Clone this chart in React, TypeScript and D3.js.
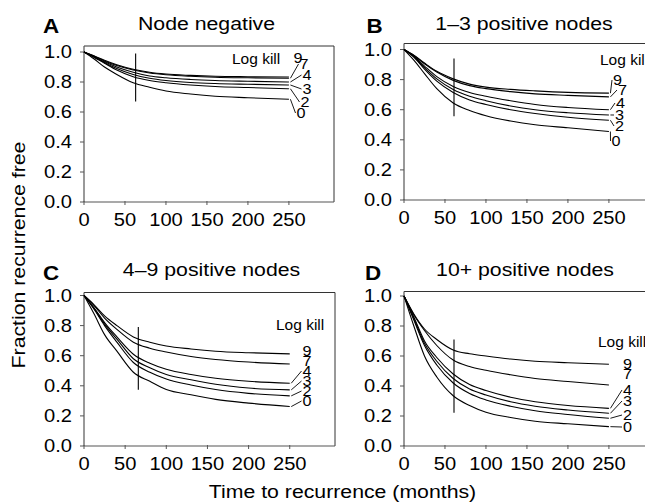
import React from "react";
import * as d3 from "d3";

// ---------- data ----------
const MONTHS = [0, 12, 25, 40, 60, 80, 100, 130, 160, 200, 250];
const LOG_KILL = ["0", "2", "3", "4", "7", "9"];
const X_TICKS = [0, 50, 100, 150, 200, 250];
const Y_TICKS = [0, 0.2, 0.4, 0.6, 0.8, 1.0];
const PANEL_LETTERS = ["A", "B", "C", "D"];
const PANEL_TITLES = ["Node negative", "1\u20133 positive nodes", "4\u20139 positive nodes", "10+ positive nodes"];

// series per panel, ordered as LOG_KILL (0,2,3,4,7,9)
const NODE_NEGATIVE = [
  [1.0, 0.955, 0.9, 0.85, 0.795, 0.765, 0.74, 0.72, 0.705, 0.695, 0.685],
  [1.0, 0.965, 0.925, 0.88, 0.835, 0.81, 0.795, 0.78, 0.77, 0.763, 0.755],
  [1.0, 0.968, 0.93, 0.89, 0.85, 0.825, 0.81, 0.797, 0.79, 0.785, 0.78],
  [1.0, 0.97, 0.935, 0.9, 0.865, 0.84, 0.828, 0.817, 0.81, 0.805, 0.8],
  [1.0, 0.973, 0.94, 0.91, 0.88, 0.86, 0.848, 0.838, 0.832, 0.828, 0.825],
  [1.0, 0.975, 0.945, 0.915, 0.885, 0.865, 0.853, 0.844, 0.838, 0.835, 0.833],
];
const NODES_1_3 = [
  [1.0, 0.93, 0.84, 0.74, 0.645, 0.595, 0.56, 0.525, 0.5, 0.48, 0.455],
  [1.0, 0.95, 0.87, 0.79, 0.715, 0.665, 0.635, 0.6, 0.575, 0.55, 0.53],
  [1.0, 0.952, 0.88, 0.805, 0.735, 0.69, 0.66, 0.625, 0.6, 0.58, 0.565],
  [1.0, 0.955, 0.89, 0.82, 0.755, 0.715, 0.69, 0.66, 0.635, 0.615, 0.6],
  [1.0, 0.96, 0.905, 0.85, 0.795, 0.76, 0.74, 0.72, 0.705, 0.695, 0.685],
  [1.0, 0.962, 0.91, 0.855, 0.805, 0.77, 0.75, 0.735, 0.725, 0.715, 0.71],
];
const NODES_4_9 = [
  [1.0, 0.88, 0.74, 0.63, 0.49, 0.43, 0.375, 0.34, 0.31, 0.285, 0.262],
  [1.0, 0.91, 0.8, 0.69, 0.555, 0.49, 0.445, 0.405, 0.375, 0.35, 0.333],
  [1.0, 0.915, 0.81, 0.71, 0.58, 0.52, 0.475, 0.44, 0.41, 0.385, 0.373],
  [1.0, 0.92, 0.82, 0.725, 0.61, 0.55, 0.51, 0.475, 0.45, 0.43, 0.417],
  [1.0, 0.935, 0.85, 0.775, 0.69, 0.65, 0.625, 0.595, 0.575, 0.558, 0.545],
  [1.0, 0.94, 0.865, 0.8, 0.725, 0.69, 0.665, 0.645, 0.63, 0.62, 0.612],
];
const NODES_10_PLUS = [
  [1.0, 0.8, 0.6, 0.46, 0.335, 0.27, 0.225, 0.19, 0.165, 0.148, 0.129],
  [1.0, 0.84, 0.67, 0.54, 0.42, 0.35, 0.307, 0.265, 0.235, 0.21, 0.185],
  [1.0, 0.85, 0.685, 0.565, 0.45, 0.38, 0.34, 0.295, 0.265, 0.24, 0.218],
  [1.0, 0.86, 0.7, 0.59, 0.48, 0.41, 0.37, 0.325, 0.295, 0.27, 0.251],
  [1.0, 0.875, 0.77, 0.67, 0.573, 0.53, 0.505, 0.475, 0.45, 0.43, 0.407],
  [1.0, 0.88, 0.78, 0.71, 0.64, 0.615, 0.6, 0.58, 0.565, 0.555, 0.545],
];
const PANEL_SERIES = [NODE_NEGATIVE, NODES_1_3, NODES_4_9, NODES_10_PLUS];

// vertical reference marks (month, top value, bottom value)
const MARKER_MONTH = [63, 61, 66, 61];
const MARKER_TOP = [0.99, 0.94, 0.79, 0.71];
const MARKER_BOTTOM = [0.67, 0.557, 0.373, 0.222];

// ---------- layout ----------
const FONT = "'Liberation Sans', Arial, Helvetica, sans-serif";
const LAYOUT = [
  {
    left: 84, top: 46, bottom: 202, width: 250, yMax: 1.04,
    titleX: 206.5, titleY: 30, letterX: 43, letterY: 33,
    logKillX: 232, logKillY: 64,
    labels: [[301, 118], [305, 107], [307, 94], [307, 80], [304, 69], [298, 63]],
    leaders: [true, true, true, true, true, false],
  },
  {
    left: 404, top: 43.5, bottom: 200, width: 250, yMax: 1.04,
    titleX: 524, titleY: 29.5, letterX: 366.5, letterY: 33,
    logKillX: 600, logKillY: 65,
    labels: [[616, 146], [619.5, 131], [619.5, 120], [620.5, 108], [622.5, 95], [617.5, 85]],
    leaders: [true, true, true, true, true, true],
  },
  {
    left: 84, top: 292.5, bottom: 446, width: 251, yMax: 1.02,
    titleX: 211.5, titleY: 276, letterX: 43, letterY: 280,
    logKillX: 276, logKillY: 330,
    labels: [[307, 406], [307, 396], [307, 386], [307, 376], [307, 366], [307, 356]],
    leaders: [true, true, true, true, false, false],
  },
  {
    left: 404, top: 291.5, bottom: 446, width: 250, yMax: 1.03,
    titleX: 525, titleY: 276, letterX: 365, letterY: 280,
    logKillX: 598, logKillY: 347,
    labels: [[627.5, 432], [627.5, 420], [627.5, 406], [627.5, 395], [627.5, 379], [627.5, 369]],
    leaders: [true, true, true, true, false, false],
  },
];

type TProps = {
  x: number; y: number; size: number; sx?: number; anchor?: string;
  weight?: string | number; rotate?: number; children: React.ReactNode;
};
function T({ x, y, size, sx = 1.15, anchor = "start", weight = "normal", rotate, children }: TProps) {
  const tr = `translate(${x},${y})${rotate ? ` rotate(${rotate})` : ""} scale(${sx},1)`;
  return (
    <text transform={tr} fontSize={size} textAnchor={anchor} fontFamily={FONT} fontWeight={weight} fill="#000">
      {children}
    </text>
  );
}

function Panel({ idx }: { idx: number }) {
  const L = LAYOUT[idx];
  const series = PANEL_SERIES[idx];
  const x = d3.scaleLinear().domain([0, 305]).range([L.left, L.left + L.width]);
  const y = d3.scaleLinear().domain([0, L.yMax]).range([L.bottom, L.top]);
  const line = d3
    .line<number>()
    .x((_, i) => x(MONTHS[i]))
    .y((d) => y(d))
    .curve(d3.curveMonotoneX);
  const right = L.left + L.width;
  const endM = MONTHS[MONTHS.length - 1];
  return (
    <g>
      {/* frame */}
      <line x1={L.left} x2={right} y1={L.top} y2={L.top} stroke="#333" strokeWidth={1} />
      <line x1={right} x2={right} y1={L.top} y2={L.bottom} stroke="#333" strokeWidth={1} />
      <line x1={L.left} x2={L.left} y1={L.top} y2={L.bottom} stroke="#555" strokeWidth={1.2} />
      <line x1={L.left} x2={right} y1={L.bottom} y2={L.bottom} stroke="#555" strokeWidth={1.2} />
      {/* x ticks */}
      {X_TICKS.map((t) => (
        <g key={"x" + t}>
          <line x1={x(t)} x2={x(t)} y1={L.bottom - 1} y2={L.bottom + 3} stroke="#555" />
          <T x={x(t)} y={L.bottom + 23.5} size={17.5} anchor="middle">{t}</T>
        </g>
      ))}
      {/* y ticks */}
      {Y_TICKS.map((t) => (
        <g key={"y" + t}>
          <line x1={L.left - 4} x2={L.left} y1={y(t)} y2={y(t)} stroke="#555" />
          <T x={L.left - 12} y={y(t) + 6.3} size={17.5} anchor="end">{d3.format(".1f")(t)}</T>
        </g>
      ))}
      {/* curves */}
      {series.map((s, i) => (
        <path key={"c" + i} d={line(s) || ""} fill="none" stroke="#000" strokeWidth={1.1} />
      ))}
      {/* marker */}
      <line
        x1={x(MARKER_MONTH[idx])} x2={x(MARKER_MONTH[idx])}
        y1={y(MARKER_TOP[idx])} y2={y(MARKER_BOTTOM[idx])}
        stroke="#000" strokeWidth={1.1}
      />
      {/* leaders & labels */}
      {series.map((s, i) => {
        const [lx, ly] = L.labels[i];
        const ex = x(endM) + 1.5;
        const ey = y(s[s.length - 1]);
        return (
          <g key={"l" + i}>
            {L.leaders[i] && (
              <line x1={ex} y1={ey} x2={lx - 5.5} y2={ly - 5} stroke="#000" strokeWidth={0.9} />
            )}
            <T x={lx} y={ly} size={15} sx={1.08} anchor="middle">{LOG_KILL[i]}</T>
          </g>
        );
      })}
      <T x={L.logKillX} y={L.logKillY} size={15.5} sx={1.0}>Log kill</T>
      {/* titles */}
      <T x={L.letterX} y={L.letterY} size={20} sx={1.12} weight="bold">{PANEL_LETTERS[idx]}</T>
      <T x={L.titleX} y={L.titleY} size={18.5} anchor="middle">{PANEL_TITLES[idx]}</T>
    </g>
  );
}

export default function App() {
  return (
    <svg
      width={645}
      height={504}
      style={{ position: "absolute", left: 0, top: 0, background: "#fff" }}
    >
      <rect x={0} y={0} width={645} height={504} fill="#fff" />
      {[0, 1, 2, 3].map((i) => (
        <Panel key={i} idx={i} />
      ))}
      <T x={25} y={255} size={18.5} anchor="middle" rotate={-90}>Fraction recurrence free</T>
      <T x={342.5} y={497.5} size={18.5} anchor="middle">Time to recurrence (months)</T>
    </svg>
  );
}
